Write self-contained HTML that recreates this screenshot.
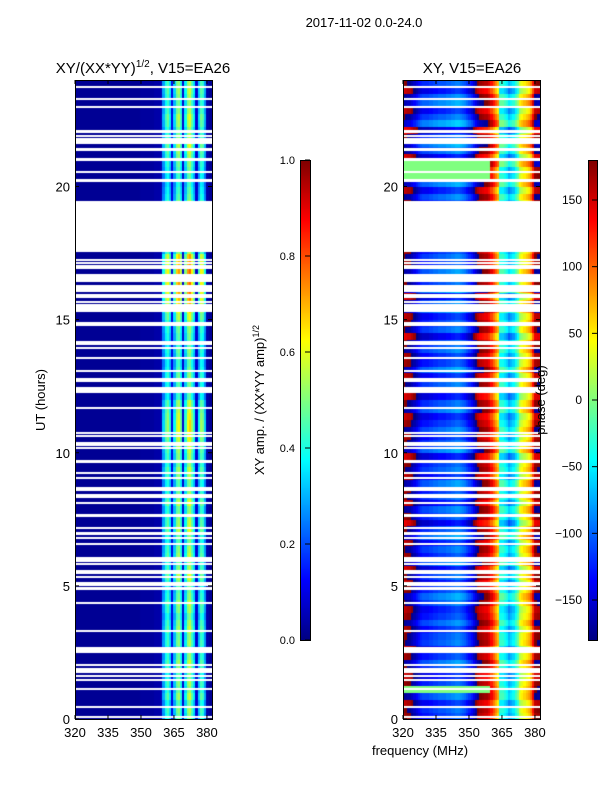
<!DOCTYPE html>
<html><head><meta charset="utf-8">
<style>
html,body{margin:0;padding:0;background:#fff;}
#wrap{position:relative;width:600px;height:800px;overflow:hidden;font-family:"Liberation Sans",sans-serif;}
canvas{position:absolute;}
svg{position:absolute;left:0;top:0;}
text{font-family:"Liberation Sans",sans-serif;fill:#000;}
</style></head>
<body>
<div id="wrap">
<canvas id="ampCanvas" width="137" height="639" style="left:75px;top:80px"></canvas>
<canvas id="phCanvas" width="137" height="639" style="left:403px;top:80px"></canvas>
<canvas id="cb1" width="10" height="480" style="left:300px;top:160px"></canvas>
<canvas id="cb2" width="9" height="480" style="left:588px;top:160px"></canvas>
<svg id="ov" width="600" height="800"></svg>
</div>
<script>
// ---- data ----
const tStep = 0.25; // hours per row
const fStart = 320; // MHz, 1 MHz channels
const ampProfile = [
0.02,0.02,0.02,0.02,0.02,0.02,0.02,0.02,0.02,0.02,
0.02,0.02,0.02,0.02,0.02,0.02,0.02,0.02,0.02,0.02,
0.02,0.02,0.02,0.02,0.02,0.02,0.02,0.02,0.02,0.02,
0.03,0.03,0.03,0.03,0.03,0.03,0.04,0.04,0.04,0.05,
0.28,0.40,0.45,0.35,0.10,
0.32,0.48,0.52,0.40,0.08,
0.36,0.52,0.56,0.45,0.35,0.08,
0.32,0.45,0.42,0.28,0.04,0.02];
const ampRowFactor = [
0.95,1.0,0.9,1.05,0.95,1.0,0.9,1.0,1.05,0.95,0.9,1.0,
0.95,1.05,1.0,0.9,1.0,1.05,0.95,0.9,1.0,1.1,1.0,0.95,
1.05,1.0,0.9,0.95,1.1,1.05,1.0,0.95,1.1,1.0,0.95,0.9,
1.0,1.05,0.95,1.0,1.05,1.1,1.15,1.2,1.2,1.15,1.1,1.05,
0.85,0.8,0.9,0.95,0.9,0.85,0.9,0.95,0.85,0.9,0.95,1.0,
1.1,1.2,1.3,1.35,1.4,1.4,1.45,1.4,1.35,1.3,1.0,1.0,
1.0,1.0,1.0,1.0,1.0,1.0,0.9,0.85,0.8,0.85,0.9,0.95,
1.0,1.05,1.1,1.0,0.95,1.05,1.1,1.0,0.95,1.0,1.05,1.0];
const phaseProfile = [
165,170,175,175,-175,-165,-155,-145,-135,-130,
-130,-130,-125,-125,-120,-120,-115,-115,-115,-115,
-110,-110,-105,-105,-100,-100,-105,-110,-115,-125,
-135,-145,-160,-175,170,160,155,150,150,140,
120,100,80,60,-40,-40,-50,-60,-80,-70,
-60,-40,-20,20,30,40,50,60,80,120,165,170];
const phaseRowOffset = [
0,10,-10,20,15,5,-15,10,25,0,-20,15,
10,-5,20,0,-10,15,30,5,-15,10,-20,25,
0,15,-10,30,10,-25,5,20,-15,10,0,25,
-10,15,5,-20,30,10,-5,20,0,-15,25,10,
-20,5,15,-10,30,0,-5,20,10,-25,15,5,
-10,30,20,-20,40,10,-30,25,0,15,0,0,
0,0,0,0,0,0,20,-10,30,10,0,40,
-20,20,35,10,-30,40,15,-10,30,20,-15,10];
const flatRowStart = [1.1, 20.2];
const flatRowEnd   = [1.3, 21.0];
const gapStart = [0.06,0.42,1.10,1.43,1.58,1.73,2.00,2.49,2.56,2.64,3.27,4.33,4.85,4.89,5.00,5.08,5.30,5.45,5.53,5.79,5.90,6.54,6.77,6.91,7.14,7.59,8.08,8.31,8.38,8.56,9.02,9.21,9.61,10.15,10.26,10.33,10.60,10.71,11.65,12.24,12.66,12.74,13.04,13.53,13.90,14.05,14.13,14.77,14.84,15.28,15.62,15.81,16.03,16.41,16.91,16.98,17.09,17.21,17.54,17.62,17.69,20.17,20.51,20.95,21.33,21.60,21.67,21.75,21.86,22.00,22.95,23.25,23.70];
const gapEnd   = [0.11,0.48,1.16,1.49,1.64,1.92,2.06,2.55,2.62,2.70,3.33,4.39,4.91,4.95,5.06,5.14,5.36,5.51,5.59,5.85,6.08,6.60,6.83,7.02,7.20,7.70,8.14,8.37,8.44,8.71,9.08,9.27,9.73,10.21,10.32,10.39,10.66,10.77,11.71,12.47,12.72,12.80,13.10,13.59,13.96,14.11,14.19,14.83,14.90,15.58,15.70,15.96,16.30,16.71,16.97,17.04,17.15,17.27,17.60,17.68,19.45,20.28,20.57,21.07,21.44,21.66,21.73,21.81,21.92,22.12,23.01,23.31,23.76];
const ampTicks = [0.0,0.2,0.4,0.6,0.8,1.0];
const ampTickLabels = ["0.0","0.2","0.4","0.6","0.8","1.0"];
const phTicks = [-150,-100,-50,0,50,100,150];
const phTickLabels = ["\u2212150","\u2212100","\u221250","0","50","100","150"];
const timeTicks = [0,5,10,15,20];
const freqTicks = [320,335,350,365,380];

// ---- scales ----
const F0=320,F1=382.3,T0=0,T1=24;
function xs(f,left){return left+(f-F0)*137/(F1-F0);}
function ys(h){return 719-(h-T0)*639/(T1-T0);}
function cbAmp(v){return 640-v*480;}
function cbPh(p){return 400-p*480/360;}
function jet(v){v=Math.max(0,Math.min(1,v));
 const c=x=>Math.round(255*Math.max(0,Math.min(1,x)));
 return `rgb(${c(1.5-Math.abs(4*v-3))},${c(1.5-Math.abs(4*v-2))},${c(1.5-Math.abs(4*v-1))})`;}
function wrap(p){while(p>180)p-=360;while(p<-180)p+=360;return p;}
function inFlat(h){for(let i=0;i<flatRowStart.length;i++){if(h>=flatRowStart[i]&&h<flatRowEnd[i])return true;}return false;}

// ---- draw heatmaps ----
const ca=document.getElementById('ampCanvas');


const cp=document.getElementById('phCanvas');


const ga=ca.getContext('2d'), gp=cp.getContext('2d');
const nRows=ampRowFactor.length;
for(let r=0;r<nRows;r++){
 const h=r*tStep;
 const y0=Math.floor(ys(h+tStep)-80), y1=Math.ceil(ys(h)-80);
 for(let c=0;c<ampProfile.length;c++){
  const f=fStart+c;
  const x0=Math.floor(xs(f,0)), x1=Math.ceil(xs(f+1,0));
  let a=ampProfile[c]; if(a>0.2) a=a*ampRowFactor[r];
  ga.fillStyle=jet(a);
  ga.fillRect(x0,y0,x1-x0,y1-y0);
  let p=wrap(phaseProfile[c]+phaseRowOffset[r]);
  if(inFlat(h+0.1)&&f<360) p=0;
  gp.fillStyle=jet((p+180)/360);
  gp.fillRect(x0,y0,x1-x0,y1-y0);
 }
}
for(let i=0;i<gapStart.length;i++){
 const y0=Math.round(ys(gapEnd[i])-80), y1=Math.round(ys(gapStart[i])-80);
 const hh=Math.max(2,y1-y0);
 ga.fillStyle='#fff';gp.fillStyle='#fff';
 ga.fillRect(0,y0,137,hh);
 gp.fillRect(0,y0,137,hh);
}
// colorbars
const c1=document.getElementById('cb1');


const c2=document.getElementById('cb2');


const g1=c1.getContext('2d'),g2=c2.getContext('2d');
for(let i=0;i<480;i++){g1.fillStyle=jet(1-i/480);g1.fillRect(0,i,10,1);g2.fillStyle=jet(1-i/480);g2.fillRect(0,i,9,1);}

// ---- overlay ----
const NS='http://www.w3.org/2000/svg', ov=document.getElementById('ov');
function el(tag,attrs,txt){const e=document.createElementNS(NS,tag);for(const k in attrs)e.setAttribute(k,attrs[k]);if(txt!==undefined)e.textContent=txt;ov.appendChild(e);return e;}
function frame(x,y,w,h,name){const e=el('rect',{x:x+0.5,y:y+0.5,width:w,height:h,fill:'none',stroke:'#000','stroke-width':1});
 
 }
frame(75,80,137,639,'amplitude-axes-frame');
frame(403,80,137,639,'phase-axes-frame');
frame(300,160,10,480,'amplitude-colorbar-frame');
frame(588,160,9,480,'phase-colorbar-frame');
[75,403].forEach((L,pi)=>{
 timeTicks.forEach(t=>{const y=ys(t);
  el('line',{x1:L,x2:L+4,y1:y,y2:y,stroke:'#000'});el('line',{x1:L+137,x2:L+133,y1:y,y2:y,stroke:'#000'});
  const tx=el('text',{x:L-5,y:y+5,'font-size':13,'text-anchor':'end'},String(t));
  
  });
 freqTicks.forEach(f=>{const x=xs(f,L);
  el('line',{x1:x,x2:x,y1:719,y2:715,stroke:'#000'});el('line',{x1:x,x2:x,y1:80,y2:84,stroke:'#000'});
  const tx=el('text',{x:x,y:737,'font-size':13,'text-anchor':'middle'},String(f));
  
  });
});
ampTicks.forEach((v,i)=>{const y=cbAmp(v);el('line',{x1:305,x2:310,y1:y,y2:y,stroke:'#000'});
 const tx=el('text',{x:295,y:y+4,'font-size':11,'text-anchor':'end'},ampTickLabels[i]);
 
 });
phTicks.forEach((v,i)=>{const y=cbPh(v);el('line',{x1:592,x2:597,y1:y,y2:y,stroke:'#000'});
 const tx=el('text',{x:582,y:y+4,'font-size':12,'text-anchor':'end'},phTickLabels[i]);
 
 });
</script>
<svg width="600" height="800" style="position:absolute;left:0;top:0">
<text x="364" y="27" font-size="13" text-anchor="middle">2017-11-02 0.0-24.0</text>
<text x="143" y="73" font-size="15" text-anchor="middle">XY/(XX*YY)<tspan font-size="10" dy="-6">1/2</tspan><tspan dy="6">, V15=EA26</tspan></text>
<text x="472" y="73" font-size="15" text-anchor="middle">XY, V15=EA26</text>
<text x="45" y="400" font-size="13" text-anchor="middle" transform="rotate(-90 45 400)">UT (hours)</text>
<text x="264" y="400" font-size="13" text-anchor="middle" transform="rotate(-90 264 400)">XY amp. / (XX*YY amp)<tspan font-size="9" dy="-5">1/2</tspan></text>
<text x="545" y="400" font-size="13" text-anchor="middle" transform="rotate(-90 545 400)">phase (deg)</text>
<text x="420" y="755" font-size="13" text-anchor="middle">frequency (MHz)</text>
</svg>
</body></html>
